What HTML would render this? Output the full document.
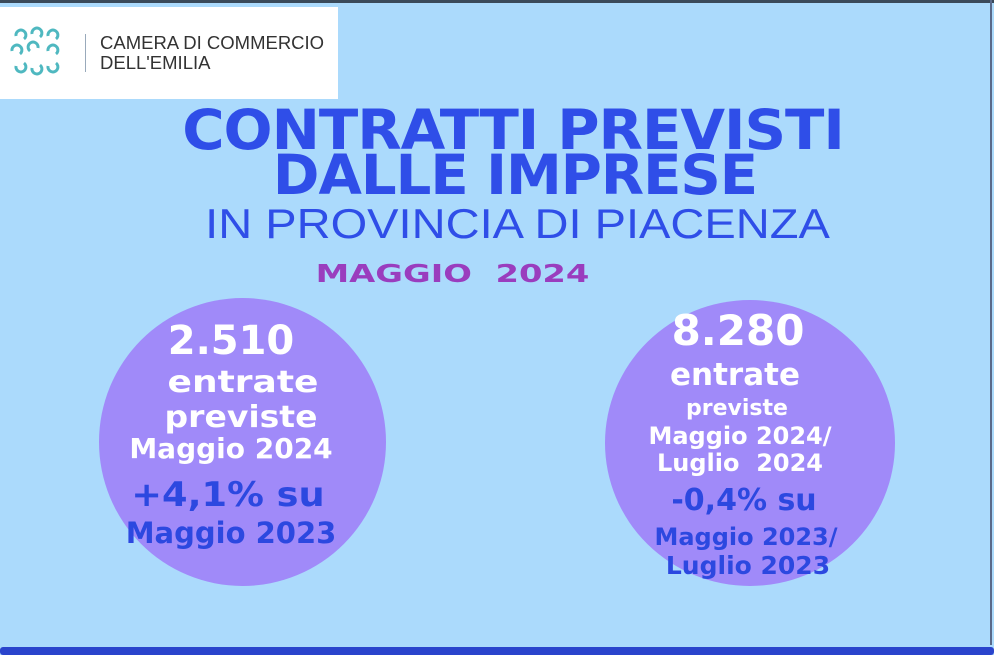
<!DOCTYPE html>
<html><head><meta charset="utf-8"><style>
*{margin:0;padding:0;box-sizing:border-box}
body{width:994px;height:655px;overflow:hidden;background:#abdafc;position:relative;font-family:"Liberation Sans","DejaVu Sans",sans-serif}
.t{position:absolute;white-space:nowrap;text-align:center;font-weight:bold;line-height:1;transform-origin:center}
.d{font-family:"DejaVu Sans",sans-serif}
.c{position:absolute;border-radius:50%;background:#a08af9}
.w{color:#fff}.b{color:#2c48e0}
</style></head><body>
<div style="position:absolute;left:0;top:0;width:994px;height:3px;background:#3a4a5a"></div>
<div style="position:absolute;right:2px;top:0;width:2px;height:645px;background:#5a6a8a"></div>
<div style="position:absolute;left:0;top:7px;width:338px;height:92px;background:#fff"></div>
<svg style="position:absolute;left:8px;top:26px" width="62" height="50" viewBox="0 0 62 50" fill="none" stroke="#4fb8c0" stroke-width="3">
<path d="M8 10a5 5 0 1 1 8 3"/><path d="M24 8a5 5 0 1 1 8 3"/><path d="M40 10a5 5 0 1 1 8 3"/>
<path d="M4 25a5 5 0 1 1 8 3"/><path d="M22 25a5 5 0 1 1 8-3"/><path d="M40 25a5 5 0 1 1 8 3"/>
<path d="M8 40a5 5 0 1 0 8-3"/><path d="M24 42a5 5 0 1 0 8-3"/><path d="M40 40a5 5 0 1 0 8-3"/>
</svg>
<div style="position:absolute;left:85px;top:34px;width:1px;height:38px;background:#9ab"></div>
<div style="position:absolute;left:100px;top:33px;font-size:18.5px;line-height:20px;color:#333">CAMERA DI COMMERCIO<br>DELL'EMILIA</div>
<div class="t d" style="left:0;width:1026px;top:103px;font-size:55px;color:#2f4ee8;letter-spacing:-1px;transform:scaleX(1.05)">CONTRATTI PREVISTI</div>
<div class="t d" style="left:0;width:1030px;top:148px;font-size:55px;color:#2f4ee8;letter-spacing:-1px;transform:scaleX(1.02)">DALLE IMPRESE</div>
<div class="t" style="left:0;width:1035px;top:203px;font-size:42px;font-weight:normal;color:#2f4ee8;transform:scaleX(1.12)">IN PROVINCIA DI PIACENZA</div>
<div class="t d" style="left:0;width:905px;top:261px;font-size:25px;color:#9a3dbe;transform:scaleX(1.35)">MAGGIO&nbsp; 2024</div>
<div class="c" style="left:99px;top:298px;width:287px;height:288px"></div>
<div class="c" style="left:605px;top:300px;width:290px;height:286px"></div>
<div class="t w d" style="left:88px;width:286px;top:321px;font-size:40px">2.510</div>
<div class="t w d" style="left:100px;width:286px;top:368px;font-size:30px;transform:scaleX(1.2)">entrate</div>
<div class="t w d" style="left:98px;width:286px;top:403px;font-size:30px;transform:scaleX(1.1)">previste</div>
<div class="t w d" style="left:88px;width:286px;top:435px;font-size:28px">Maggio 2024</div>
<div class="t b d" style="left:85px;width:286px;top:478px;font-size:34px;transform:scaleX(1.08)">+4,1% su</div>
<div class="t b d" style="left:88px;width:286px;top:519px;font-size:29px">Maggio 2023</div>
<div class="t w d" style="left:595px;width:286px;top:310px;font-size:42px">8.280</div>
<div class="t w d" style="left:592px;width:286px;top:360px;font-size:31px">entrate</div>
<div class="t w d" style="left:594px;width:286px;top:398px;font-size:22px">previste</div>
<div class="t w d" style="left:597px;width:286px;top:424px;font-size:24px">Maggio 2024/</div>
<div class="t w d" style="left:597px;width:286px;top:451px;font-size:24px">Luglio&nbsp; 2024</div>
<div class="t b d" style="left:601px;width:286px;top:486px;font-size:30px">-0,4% su</div>
<div class="t b d" style="left:603px;width:286px;top:525px;font-size:24px">Maggio 2023/</div>
<div class="t b d" style="left:605px;width:286px;top:553px;font-size:25px">Luglio 2023</div>
<div style="position:absolute;left:0;top:647px;width:994px;height:8px;background:#2a44cc;border-radius:3px"></div>
</body></html>
